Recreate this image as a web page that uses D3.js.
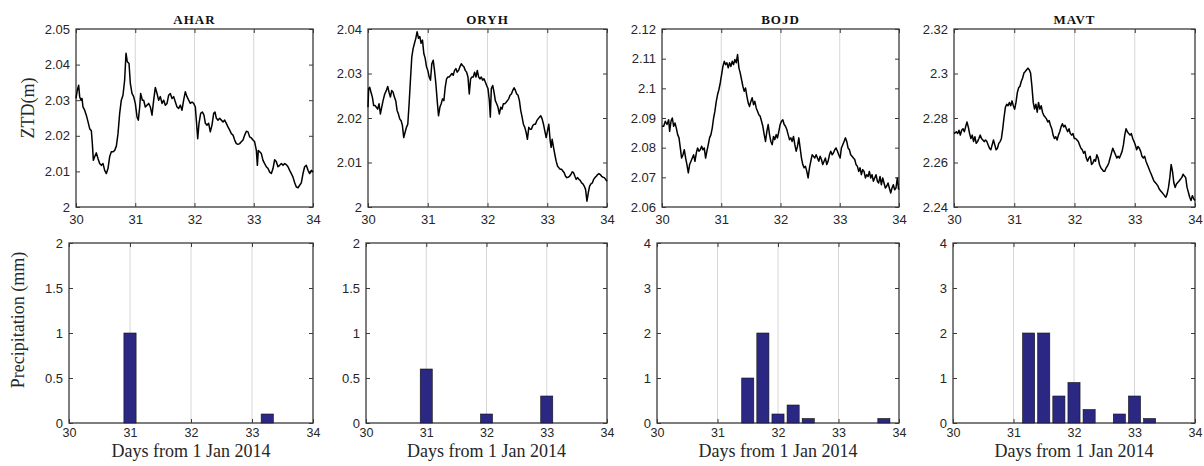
<!DOCTYPE html>
<html>
<head>
<meta charset="utf-8">
<script src="https://cdn.jsdelivr.net/npm/d3@7"></script>
<style>
  body { margin: 0; background: #fff; }
</style>
</head>
<body>
<svg id="chart" width="1204" height="466"></svg>
<script>
// Station names (panel titles)
const stations = ["AHAR", "ORYH", "BOJD", "MAVT"];

// ZTD series, [day from 1 Jan 2014, ZTD in m]
const aharZtd = [[30.000,2.0305],[30.022,2.0328],[30.045,2.0342],[30.062,2.0310],[30.084,2.0300],[30.101,2.0305],[30.118,2.0281],[30.146,2.0272],[30.174,2.0258],[30.203,2.0239],[30.231,2.0220],[30.259,2.0214],[30.276,2.0178],[30.293,2.0131],[30.315,2.0141],[30.343,2.0152],[30.371,2.0136],[30.399,2.0122],[30.428,2.0117],[30.456,2.0122],[30.484,2.0103],[30.512,2.0094],[30.540,2.0108],[30.568,2.0141],[30.596,2.0155],[30.624,2.0155],[30.653,2.0159],[30.681,2.0171],[30.709,2.0206],[30.737,2.0263],[30.765,2.0300],[30.793,2.0314],[30.821,2.0356],[30.844,2.0432],[30.866,2.0408],[30.895,2.0403],[30.917,2.0347],[30.945,2.0319],[30.973,2.0310],[31.001,2.0291],[31.030,2.0253],[31.052,2.0244],[31.075,2.0281],[31.091,2.0319],[31.120,2.0300],[31.142,2.0300],[31.170,2.0281],[31.198,2.0286],[31.226,2.0291],[31.255,2.0281],[31.283,2.0258],[31.311,2.0300],[31.339,2.0336],[31.367,2.0319],[31.395,2.0300],[31.423,2.0310],[31.452,2.0291],[31.480,2.0300],[31.508,2.0286],[31.536,2.0291],[31.564,2.0314],[31.592,2.0319],[31.620,2.0305],[31.648,2.0310],[31.677,2.0295],[31.705,2.0281],[31.733,2.0277],[31.761,2.0286],[31.789,2.0272],[31.817,2.0300],[31.845,2.0324],[31.873,2.0310],[31.902,2.0300],[31.930,2.0291],[31.958,2.0295],[31.986,2.0291],[32.014,2.0281],[32.031,2.0244],[32.054,2.0192],[32.076,2.0235],[32.104,2.0263],[32.132,2.0267],[32.160,2.0258],[32.183,2.0235],[32.211,2.0230],[32.239,2.0235],[32.267,2.0211],[32.295,2.0230],[32.324,2.0263],[32.346,2.0267],[32.369,2.0249],[32.397,2.0244],[32.425,2.0249],[32.453,2.0244],[32.481,2.0239],[32.509,2.0244],[32.537,2.0235],[32.565,2.0225],[32.594,2.0216],[32.622,2.0206],[32.650,2.0202],[32.678,2.0188],[32.706,2.0178],[32.734,2.0176],[32.762,2.0178],[32.790,2.0183],[32.819,2.0188],[32.847,2.0202],[32.875,2.0213],[32.903,2.0211],[32.931,2.0197],[32.959,2.0194],[32.987,2.0188],[33.015,2.0183],[33.044,2.0159],[33.061,2.0117],[33.077,2.0159],[33.100,2.0155],[33.128,2.0150],[33.156,2.0131],[33.184,2.0122],[33.212,2.0113],[33.241,2.0108],[33.269,2.0098],[33.297,2.0094],[33.325,2.0108],[33.353,2.0133],[33.381,2.0127],[33.409,2.0113],[33.437,2.0117],[33.466,2.0122],[33.494,2.0117],[33.522,2.0122],[33.550,2.0119],[33.578,2.0113],[33.606,2.0103],[33.634,2.0094],[33.662,2.0084],[33.691,2.0068],[33.719,2.0056],[33.747,2.0054],[33.775,2.0061],[33.803,2.0068],[33.831,2.0094],[33.859,2.0113],[33.887,2.0117],[33.916,2.0103],[33.944,2.0094],[33.972,2.0103],[34.000,2.0098]];

const oryhZtd = [[30.000,2.0224],[30.011,2.0266],[30.028,2.0269],[30.050,2.0258],[30.073,2.0247],[30.095,2.0228],[30.117,2.0228],[30.140,2.0224],[30.162,2.0220],[30.185,2.0232],[30.207,2.0209],[30.229,2.0224],[30.252,2.0239],[30.280,2.0254],[30.308,2.0262],[30.330,2.0271],[30.352,2.0258],[30.375,2.0247],[30.397,2.0262],[30.420,2.0258],[30.442,2.0247],[30.464,2.0239],[30.487,2.0217],[30.509,2.0209],[30.531,2.0198],[30.554,2.0194],[30.576,2.0183],[30.598,2.0156],[30.621,2.0168],[30.643,2.0179],[30.666,2.0186],[30.688,2.0232],[30.710,2.0285],[30.733,2.0337],[30.755,2.0356],[30.778,2.0368],[30.800,2.0379],[30.822,2.0394],[30.845,2.0379],[30.867,2.0383],[30.889,2.0368],[30.912,2.0375],[30.934,2.0345],[30.957,2.0334],[30.979,2.0315],[31.001,2.0307],[31.024,2.0292],[31.046,2.0285],[31.068,2.0322],[31.091,2.0330],[31.113,2.0307],[31.136,2.0277],[31.158,2.0239],[31.180,2.0205],[31.203,2.0224],[31.225,2.0232],[31.247,2.0243],[31.270,2.0239],[31.292,2.0269],[31.315,2.0288],[31.337,2.0292],[31.359,2.0292],[31.382,2.0296],[31.404,2.0300],[31.426,2.0296],[31.449,2.0307],[31.471,2.0311],[31.494,2.0303],[31.516,2.0307],[31.538,2.0315],[31.561,2.0322],[31.583,2.0318],[31.605,2.0315],[31.628,2.0307],[31.650,2.0303],[31.673,2.0292],[31.695,2.0254],[31.717,2.0288],[31.740,2.0292],[31.762,2.0292],[31.784,2.0303],[31.807,2.0292],[31.829,2.0307],[31.852,2.0292],[31.874,2.0288],[31.896,2.0292],[31.919,2.0285],[31.941,2.0288],[31.963,2.0281],[31.986,2.0273],[32.008,2.0266],[32.031,2.0239],[32.047,2.0202],[32.064,2.0266],[32.087,2.0273],[32.109,2.0258],[32.131,2.0239],[32.154,2.0232],[32.176,2.0224],[32.198,2.0209],[32.221,2.0224],[32.243,2.0220],[32.265,2.0232],[32.288,2.0232],[32.310,2.0235],[32.333,2.0239],[32.355,2.0243],[32.377,2.0251],[32.400,2.0254],[32.422,2.0262],[32.445,2.0268],[32.467,2.0262],[32.489,2.0254],[32.512,2.0251],[32.534,2.0239],[32.556,2.0217],[32.579,2.0202],[32.601,2.0186],[32.624,2.0179],[32.646,2.0168],[32.668,2.0152],[32.691,2.0179],[32.713,2.0175],[32.735,2.0175],[32.758,2.0183],[32.780,2.0186],[32.803,2.0186],[32.825,2.0194],[32.847,2.0198],[32.870,2.0202],[32.892,2.0205],[32.914,2.0198],[32.937,2.0186],[32.959,2.0171],[32.982,2.0156],[33.004,2.0171],[33.026,2.0186],[33.049,2.0149],[33.065,2.0134],[33.082,2.0152],[33.105,2.0134],[33.127,2.0118],[33.149,2.0103],[33.172,2.0092],[33.194,2.0088],[33.216,2.0085],[33.239,2.0085],[33.261,2.0081],[33.284,2.0077],[33.306,2.0069],[33.328,2.0066],[33.351,2.0067],[33.373,2.0069],[33.396,2.0073],[33.418,2.0079],[33.440,2.0077],[33.463,2.0069],[33.485,2.0062],[33.507,2.0066],[33.530,2.0062],[33.552,2.0060],[33.575,2.0054],[33.597,2.0052],[33.619,2.0047],[33.642,2.0039],[33.664,2.0013],[33.687,2.0032],[33.709,2.0047],[33.731,2.0052],[33.754,2.0054],[33.776,2.0062],[33.798,2.0066],[33.821,2.0069],[33.843,2.0073],[33.865,2.0075],[33.888,2.0073],[33.910,2.0069],[33.932,2.0067],[33.955,2.0066],[33.977,2.0062],[34.000,2.0058]];

const bojdZtd = [[30.000,2.0872],[30.028,2.0872],[30.056,2.0889],[30.084,2.0878],[30.112,2.0894],[30.129,2.0855],[30.152,2.0889],[30.174,2.0900],[30.197,2.0872],[30.219,2.0883],[30.242,2.0866],[30.264,2.0844],[30.287,2.0833],[30.309,2.0799],[30.331,2.0765],[30.354,2.0776],[30.376,2.0793],[30.399,2.0765],[30.421,2.0743],[30.444,2.0715],[30.466,2.0743],[30.489,2.0754],[30.511,2.0765],[30.534,2.0776],[30.556,2.0754],[30.579,2.0782],[30.601,2.0799],[30.624,2.0788],[30.646,2.0793],[30.669,2.0805],[30.691,2.0793],[30.713,2.0799],[30.736,2.0765],[30.758,2.0788],[30.781,2.0810],[30.803,2.0833],[30.826,2.0844],[30.848,2.0866],[30.871,2.0900],[30.893,2.0923],[30.916,2.0956],[30.938,2.0979],[30.961,2.0996],[30.983,2.1018],[31.006,2.1046],[31.028,2.1074],[31.051,2.1091],[31.073,2.1080],[31.096,2.1086],[31.118,2.1069],[31.140,2.1086],[31.163,2.1074],[31.185,2.1091],[31.208,2.1080],[31.230,2.1097],[31.253,2.1086],[31.275,2.1114],[31.298,2.1069],[31.320,2.1052],[31.343,2.1029],[31.365,2.1007],[31.388,2.0990],[31.410,2.1001],[31.433,2.0973],[31.455,2.0951],[31.478,2.0939],[31.500,2.0956],[31.522,2.0968],[31.545,2.0945],[31.567,2.0956],[31.590,2.0934],[31.612,2.0923],[31.635,2.0911],[31.657,2.0906],[31.680,2.0889],[31.702,2.0872],[31.725,2.0844],[31.747,2.0821],[31.770,2.0855],[31.792,2.0878],[31.815,2.0844],[31.837,2.0821],[31.860,2.0810],[31.882,2.0838],[31.904,2.0827],[31.927,2.0844],[31.949,2.0833],[31.972,2.0855],[31.994,2.0878],[32.017,2.0889],[32.039,2.0894],[32.062,2.0878],[32.084,2.0872],[32.107,2.0861],[32.129,2.0844],[32.152,2.0827],[32.174,2.0833],[32.197,2.0821],[32.219,2.0838],[32.242,2.0810],[32.264,2.0788],[32.287,2.0805],[32.309,2.0833],[32.331,2.0799],[32.354,2.0765],[32.376,2.0743],[32.399,2.0732],[32.421,2.0737],[32.444,2.0720],[32.466,2.0698],[32.489,2.0732],[32.511,2.0754],[32.534,2.0776],[32.556,2.0771],[32.579,2.0765],[32.601,2.0776],[32.624,2.0765],[32.646,2.0754],[32.669,2.0771],[32.691,2.0760],[32.713,2.0743],[32.736,2.0754],[32.758,2.0765],[32.781,2.0743],[32.803,2.0754],[32.826,2.0776],[32.848,2.0788],[32.871,2.0776],[32.893,2.0782],[32.916,2.0793],[32.938,2.0799],[32.961,2.0788],[32.983,2.0776],[33.006,2.0765],[33.028,2.0799],[33.051,2.0810],[33.073,2.0821],[33.096,2.0833],[33.118,2.0821],[33.140,2.0799],[33.163,2.0793],[33.185,2.0776],[33.208,2.0771],[33.230,2.0765],[33.253,2.0760],[33.275,2.0743],[33.298,2.0737],[33.320,2.0720],[33.343,2.0732],[33.365,2.0709],[33.388,2.0726],[33.410,2.0720],[33.433,2.0698],[33.455,2.0709],[33.478,2.0703],[33.500,2.0720],[33.522,2.0698],[33.545,2.0709],[33.567,2.0687],[33.590,2.0698],[33.612,2.0709],[33.635,2.0687],[33.657,2.0681],[33.680,2.0703],[33.702,2.0675],[33.725,2.0698],[33.747,2.0681],[33.770,2.0664],[33.792,2.0670],[33.815,2.0681],[33.837,2.0664],[33.860,2.0647],[33.882,2.0664],[33.904,2.0675],[33.927,2.0658],[33.949,2.0664],[33.972,2.0698],[33.994,2.0658]];

const mavtZtd = [[30.000,2.2730],[30.039,2.2738],[30.061,2.2730],[30.083,2.2745],[30.105,2.2723],[30.127,2.2745],[30.149,2.2752],[30.171,2.2738],[30.193,2.2760],[30.215,2.2782],[30.237,2.2760],[30.259,2.2730],[30.281,2.2708],[30.303,2.2723],[30.325,2.2694],[30.347,2.2716],[30.369,2.2686],[30.391,2.2694],[30.413,2.2708],[30.435,2.2723],[30.457,2.2708],[30.479,2.2701],[30.501,2.2694],[30.523,2.2701],[30.545,2.2694],[30.567,2.2679],[30.589,2.2664],[30.611,2.2657],[30.633,2.2679],[30.655,2.2701],[30.677,2.2679],[30.699,2.2657],[30.721,2.2664],[30.743,2.2686],[30.765,2.2694],[30.787,2.2708],[30.809,2.2752],[30.831,2.2804],[30.853,2.2848],[30.875,2.2862],[30.897,2.2855],[30.919,2.2870],[30.941,2.2855],[30.963,2.2877],[30.985,2.2855],[31.007,2.2840],[31.029,2.2870],[31.051,2.2914],[31.073,2.2936],[31.095,2.2943],[31.117,2.2965],[31.139,2.2980],[31.161,2.3002],[31.183,2.3009],[31.205,2.3017],[31.227,2.3024],[31.249,2.3017],[31.271,2.3002],[31.293,2.2943],[31.315,2.2870],[31.337,2.2840],[31.359,2.2862],[31.381,2.2826],[31.403,2.2870],[31.425,2.2840],[31.447,2.2855],[31.469,2.2826],[31.491,2.2811],[31.513,2.2804],[31.535,2.2796],[31.557,2.2782],[31.579,2.2789],[31.601,2.2767],[31.623,2.2752],[31.645,2.2723],[31.667,2.2708],[31.689,2.2716],[31.711,2.2701],[31.733,2.2723],[31.755,2.2738],[31.777,2.2760],[31.799,2.2774],[31.821,2.2760],[31.843,2.2767],[31.865,2.2752],[31.887,2.2738],[31.909,2.2752],[31.931,2.2730],[31.953,2.2723],[31.975,2.2730],[31.997,2.2708],[32.019,2.2708],[32.041,2.2701],[32.063,2.2694],[32.085,2.2679],[32.107,2.2664],[32.129,2.2657],[32.151,2.2642],[32.173,2.2650],[32.195,2.2620],[32.217,2.2606],[32.239,2.2620],[32.261,2.2628],[32.283,2.2591],[32.305,2.2598],[32.327,2.2613],[32.349,2.2606],[32.371,2.2635],[32.393,2.2620],[32.415,2.2591],[32.437,2.2576],[32.459,2.2569],[32.481,2.2561],[32.503,2.2561],[32.525,2.2576],[32.547,2.2584],[32.569,2.2598],[32.591,2.2620],[32.613,2.2642],[32.635,2.2664],[32.657,2.2650],[32.680,2.2635],[32.702,2.2620],[32.724,2.2628],[32.746,2.2620],[32.768,2.2635],[32.790,2.2650],[32.812,2.2679],[32.834,2.2723],[32.856,2.2752],[32.878,2.2738],[32.900,2.2730],[32.922,2.2723],[32.944,2.2730],[32.966,2.2708],[32.988,2.2694],[33.010,2.2679],[33.032,2.2657],[33.054,2.2672],[33.076,2.2664],[33.098,2.2650],[33.120,2.2628],[33.142,2.2620],[33.164,2.2628],[33.186,2.2606],[33.208,2.2591],[33.230,2.2576],[33.252,2.2561],[33.274,2.2547],[33.296,2.2532],[33.318,2.2517],[33.340,2.2510],[33.362,2.2503],[33.384,2.2495],[33.406,2.2481],[33.428,2.2473],[33.450,2.2466],[33.472,2.2459],[33.494,2.2451],[33.516,2.2444],[33.538,2.2459],[33.560,2.2488],[33.582,2.2532],[33.604,2.2591],[33.626,2.2561],[33.648,2.2510],[33.670,2.2488],[33.692,2.2503],[33.714,2.2510],[33.736,2.2517],[33.758,2.2525],[33.780,2.2532],[33.802,2.2547],[33.824,2.2539],[33.846,2.2532],[33.868,2.2488],[33.890,2.2466],[33.912,2.2444],[33.934,2.2429],[33.956,2.2451],[33.978,2.2437],[34.000,2.2429]];

// Precipitation, [day, mm] (6-hourly bars)
const aharRain = [[31, 1.0], [33.25, 0.1]];
const oryhRain = [[31, 0.6], [32, 0.1], [33, 0.3]];
const bojdRain = [[31.5, 1.0], [31.75, 2.0], [32, 0.2], [32.25, 0.4], [32.5, 0.1], [33.75, 0.1]];
const mavtRain = [[31.25, 2.0], [31.5, 2.0], [31.75, 0.6], [32, 0.9], [32.25, 0.3], [32.75, 0.2], [33, 0.6], [33.25, 0.1]];

// Axis domains and tick labels
const dayDomain = [30, 34];
const dayTicks = [30, 31, 32, 33, 34];
const gridDays = [31, 32, 33];
const ztdDomains = [[2, 2.05], [2, 2.04], [2.06, 2.12], [2.24, 2.32]];
const ztdTicks = [
  [2, 2.01, 2.02, 2.03, 2.04, 2.05],
  [2, 2.01, 2.02, 2.03, 2.04],
  [2.06, 2.07, 2.08, 2.09, 2.1, 2.11, 2.12],
  [2.24, 2.26, 2.28, 2.3, 2.32]
];
const rainDomains = [[0, 2], [0, 2], [0, 4], [0, 4]];
const rainTicks = [[0, 0.5, 1, 1.5, 2], [0, 0.5, 1, 1.5, 2], [0, 1, 2, 3, 4], [0, 1, 2, 3, 4]];
const barWidth = 0.2; // in days

const ztdSeries = [aharZtd, oryhZtd, bojdZtd, mavtZtd];
const rainSeries = [aharRain, oryhRain, bojdRain, mavtRain];

// Panel placement (pixels)
const topCols = [[76, 313], [368, 607], [662, 899], [954, 1195]];
const botCols = [[69, 313], [366, 607], [657, 899], [953, 1195]];
const topRow = [29, 207];
const botRow = [243, 423];

const svg = d3.select("#chart");
const boxColor = "#3a3a3a";
const textColor = "#262626";
const fmt = d => String(+d.toFixed(3));

// Draws the frame, grid and inside ticks of one panel
function drawFrame(g, x, y, yTicks, xPad, xFont) {
  const [x0, x1] = x.range();
  const [y1, y0] = y.range();

  g.append("g").selectAll("line")
    .data(gridDays)
    .join("line")
    .attr("x1", d => x(d)).attr("x2", d => x(d))
    .attr("y1", y0).attr("y2", y1)
    .attr("stroke", "#d6d6d6")
    .attr("stroke-width", 1);

  const styleAxis = (a, size) => {
    a.select(".domain").remove();
    a.selectAll(".tick line").attr("stroke", boxColor).attr("stroke-width", 1);
    a.selectAll("text")
      .attr("fill", textColor)
      .style("font-family", "'Liberation Sans', Arial, sans-serif")
      .style("font-size", (size || 13) + "px");
  };

  g.append("g").attr("transform", `translate(${x0},0)`)
    .call(d3.axisLeft(y).tickValues(yTicks).tickSize(-4).tickPadding(6).tickFormat(fmt))
    .call(styleAxis);
  g.append("g").attr("transform", `translate(${x1},0)`)
    .call(d3.axisRight(y).tickValues(yTicks).tickSize(-4).tickFormat(""))
    .call(styleAxis);
  g.append("g").attr("transform", `translate(0,${y1})`)
    .call(d3.axisBottom(x).tickValues(dayTicks).tickSize(-4).tickPadding(xPad).tickFormat(d3.format("d")))
    .call(styleAxis, xFont);
  g.append("g").attr("transform", `translate(0,${y0})`)
    .call(d3.axisTop(x).tickValues(dayTicks).tickSize(-4).tickFormat(""))
    .call(styleAxis);

  g.append("rect")
    .attr("x", x0).attr("y", y0)
    .attr("width", x1 - x0).attr("height", y1 - y0)
    .attr("fill", "none")
    .attr("stroke", boxColor)
    .attr("stroke-width", 1.3);
}

stations.forEach((name, i) => {
  // ZTD panel
  const xTop = d3.scaleLinear().domain(dayDomain).range(topCols[i]);
  const yTop = d3.scaleLinear().domain(ztdDomains[i]).range([topRow[1], topRow[0]]);
  const gTop = svg.append("g");
  drawFrame(gTop, xTop, yTop, ztdTicks[i], 8, 13);

  const line = d3.line().x(d => xTop(d[0])).y(d => yTop(d[1]));
  gTop.append("path")
    .datum(ztdSeries[i])
    .attr("d", line)
    .attr("fill", "none")
    .attr("stroke", "#000")
    .attr("stroke-width", 1.5)
    .attr("stroke-linejoin", "round");

  gTop.append("text")
    .attr("x", (topCols[i][0] + topCols[i][1]) / 2)
    .attr("y", 24)
    .attr("text-anchor", "middle")
    .style("font-family", "'Liberation Serif', 'Times New Roman', serif")
    .style("font-weight", "bold")
    .style("font-size", "13px")
    .style("letter-spacing", "1px")
    .attr("fill", "#111")
    .text(name);

  // Precipitation panel
  const xBot = d3.scaleLinear().domain(dayDomain).range(botCols[i]);
  const yBot = d3.scaleLinear().domain(rainDomains[i]).range([botRow[1], botRow[0]]);
  const gBot = svg.append("g");

  const bars = gBot.append("g");
  drawFrame(gBot, xBot, yBot, rainTicks[i], 5, 12.5);
  bars.raise();
  bars.selectAll("rect")
    .data(rainSeries[i])
    .join("rect")
    .attr("x", d => xBot(d[0] - barWidth / 2))
    .attr("width", d => xBot(d[0] + barWidth / 2) - xBot(d[0] - barWidth / 2))
    .attr("y", d => yBot(d[1]))
    .attr("height", d => yBot(0) - yBot(d[1]))
    .attr("fill", "#2b2883")
    .attr("stroke", "#111")
    .attr("stroke-width", 0.6);

  gBot.append("text")
    .attr("x", (botCols[i][0] + botCols[i][1]) / 2)
    .attr("y", 457)
    .attr("text-anchor", "middle")
    .style("font-family", "'Liberation Serif', 'Times New Roman', serif")
    .style("font-size", "18px")
    .attr("fill", textColor)
    .text("Days from 1 Jan 2014");
});

// Y axis titles
svg.append("text")
  .attr("transform", "translate(34,108) rotate(-90)")
  .attr("text-anchor", "middle")
  .style("font-family", "'Liberation Serif', 'Times New Roman', serif")
  .style("font-size", "18px")
  .attr("fill", textColor)
  .text("ZTD(m)");

svg.append("text")
  .attr("transform", "translate(24,320) rotate(-90)")
  .attr("text-anchor", "middle")
  .style("font-family", "'Liberation Serif', 'Times New Roman', serif")
  .style("font-size", "18px")
  .attr("fill", textColor)
  .text("Precipitation (mm)");
</script>
</body>
</html>
